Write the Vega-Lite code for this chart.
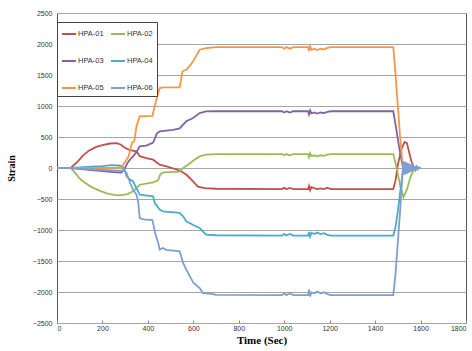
{
  "$schema": "https://vega.github.io/schema/vega-lite/v6.json",
  "width": 409,
  "height": 310,
  "autosize": {"type": "none"},
  "padding": {"left": 57, "top": 13, "right": 6, "bottom": 28},
  "background": "white",
  "config": {
    "view": {"stroke": "#555555", "strokeWidth": 1},
    "font": "Liberation Sans"
  },
  "data": {"values": [
    {"s":"HPA-01","t":0,"v":0},{"s":"HPA-01","t":60,"v":0},{"s":"HPA-01","t":90,"v":100},{"s":"HPA-01","t":114,"v":200},{"s":"HPA-01","t":140,"v":280},{"s":"HPA-01","t":173,"v":340},{"s":"HPA-01","t":200,"v":370},{"s":"HPA-01","t":233,"v":395},{"s":"HPA-01","t":262,"v":400},{"s":"HPA-01","t":280,"v":380},{"s":"HPA-01","t":297,"v":330},{"s":"HPA-01","t":320,"v":290},{"s":"HPA-01","t":350,"v":268},{"s":"HPA-01","t":364,"v":190},{"s":"HPA-01","t":393,"v":161},{"s":"HPA-01","t":423,"v":134},{"s":"HPA-01","t":452,"v":54},{"s":"HPA-01","t":482,"v":27},{"s":"HPA-01","t":540,"v":-40},{"s":"HPA-01","t":570,"v":-110},{"s":"HPA-01","t":600,"v":-220},{"s":"HPA-01","t":620,"v":-300},{"s":"HPA-01","t":650,"v":-325},{"s":"HPA-01","t":700,"v":-335},{"s":"HPA-01","t":990,"v":-340},{"s":"HPA-01","t":1000,"v":-320},{"s":"HPA-01","t":1010,"v":-340},{"s":"HPA-01","t":1025,"v":-320},{"s":"HPA-01","t":1040,"v":-340},{"s":"HPA-01","t":1105,"v":-340},{"s":"HPA-01","t":1109,"v":-290},{"s":"HPA-01","t":1114,"v":-360},{"s":"HPA-01","t":1120,"v":-310},{"s":"HPA-01","t":1132,"v":-325},{"s":"HPA-01","t":1145,"v":-340},{"s":"HPA-01","t":1160,"v":-330},{"s":"HPA-01","t":1175,"v":-340},{"s":"HPA-01","t":1190,"v":-318},{"s":"HPA-01","t":1205,"v":-340},{"s":"HPA-01","t":1480,"v":-340},{"s":"HPA-01","t":1490,"v":-200},{"s":"HPA-01","t":1500,"v":50},{"s":"HPA-01","t":1515,"v":300},{"s":"HPA-01","t":1530,"v":420},{"s":"HPA-01","t":1540,"v":400},{"s":"HPA-01","t":1550,"v":250},{"s":"HPA-01","t":1560,"v":100},{"s":"HPA-01","t":1570,"v":20},{"s":"HPA-01","t":1600,"v":0},

    {"s":"HPA-02","t":0,"v":0},{"s":"HPA-02","t":60,"v":0},{"s":"HPA-02","t":80,"v":-80},{"s":"HPA-02","t":100,"v":-170},{"s":"HPA-02","t":120,"v":-230},{"s":"HPA-02","t":140,"v":-280},{"s":"HPA-02","t":160,"v":-320},{"s":"HPA-02","t":190,"v":-370},{"s":"HPA-02","t":220,"v":-410},{"s":"HPA-02","t":250,"v":-435},{"s":"HPA-02","t":276,"v":-442},{"s":"HPA-02","t":310,"v":-420},{"s":"HPA-02","t":335,"v":-377},{"s":"HPA-02","t":364,"v":-270},{"s":"HPA-02","t":423,"v":-230},{"s":"HPA-02","t":445,"v":-200},{"s":"HPA-02","t":455,"v":-100},{"s":"HPA-02","t":470,"v":-70},{"s":"HPA-02","t":540,"v":-60},{"s":"HPA-02","t":555,"v":0},{"s":"HPA-02","t":580,"v":60},{"s":"HPA-02","t":600,"v":120},{"s":"HPA-02","t":628,"v":187},{"s":"HPA-02","t":656,"v":215},{"s":"HPA-02","t":700,"v":225},{"s":"HPA-02","t":990,"v":225},{"s":"HPA-02","t":1000,"v":205},{"s":"HPA-02","t":1010,"v":225},{"s":"HPA-02","t":1025,"v":205},{"s":"HPA-02","t":1040,"v":225},{"s":"HPA-02","t":1105,"v":225},{"s":"HPA-02","t":1109,"v":175},{"s":"HPA-02","t":1114,"v":240},{"s":"HPA-02","t":1120,"v":190},{"s":"HPA-02","t":1132,"v":205},{"s":"HPA-02","t":1145,"v":188},{"s":"HPA-02","t":1160,"v":205},{"s":"HPA-02","t":1175,"v":195},{"s":"HPA-02","t":1190,"v":215},{"s":"HPA-02","t":1205,"v":225},{"s":"HPA-02","t":1480,"v":225},{"s":"HPA-02","t":1495,"v":0},{"s":"HPA-02","t":1510,"v":-280},{"s":"HPA-02","t":1525,"v":-470},{"s":"HPA-02","t":1540,"v":-350},{"s":"HPA-02","t":1555,"v":-150},{"s":"HPA-02","t":1570,"v":-30},{"s":"HPA-02","t":1600,"v":0},

    {"s":"HPA-03","t":0,"v":0},{"s":"HPA-03","t":60,"v":0},{"s":"HPA-03","t":100,"v":-15},{"s":"HPA-03","t":150,"v":-35},{"s":"HPA-03","t":200,"v":-50},{"s":"HPA-03","t":250,"v":-65},{"s":"HPA-03","t":283,"v":-75},{"s":"HPA-03","t":295,"v":-30},{"s":"HPA-03","t":310,"v":80},{"s":"HPA-03","t":325,"v":150},{"s":"HPA-03","t":335,"v":187},{"s":"HPA-03","t":350,"v":260},{"s":"HPA-03","t":364,"v":349},{"s":"HPA-03","t":393,"v":360},{"s":"HPA-03","t":423,"v":410},{"s":"HPA-03","t":440,"v":560},{"s":"HPA-03","t":452,"v":590},{"s":"HPA-03","t":511,"v":615},{"s":"HPA-03","t":540,"v":640},{"s":"HPA-03","t":555,"v":700},{"s":"HPA-03","t":569,"v":753},{"s":"HPA-03","t":599,"v":807},{"s":"HPA-03","t":628,"v":887},{"s":"HPA-03","t":656,"v":913},{"s":"HPA-03","t":700,"v":915},{"s":"HPA-03","t":990,"v":915},{"s":"HPA-03","t":1000,"v":895},{"s":"HPA-03","t":1010,"v":915},{"s":"HPA-03","t":1025,"v":895},{"s":"HPA-03","t":1040,"v":915},{"s":"HPA-03","t":1105,"v":915},{"s":"HPA-03","t":1109,"v":865},{"s":"HPA-03","t":1114,"v":930},{"s":"HPA-03","t":1120,"v":880},{"s":"HPA-03","t":1132,"v":895},{"s":"HPA-03","t":1145,"v":878},{"s":"HPA-03","t":1160,"v":895},{"s":"HPA-03","t":1175,"v":885},{"s":"HPA-03","t":1190,"v":905},{"s":"HPA-03","t":1205,"v":915},{"s":"HPA-03","t":1480,"v":915},{"s":"HPA-03","t":1490,"v":700},{"s":"HPA-03","t":1505,"v":350},{"s":"HPA-03","t":1520,"v":50},{"s":"HPA-03","t":1530,"v":-30},{"s":"HPA-03","t":1545,"v":-40},{"s":"HPA-03","t":1560,"v":-20},{"s":"HPA-03","t":1580,"v":0},{"s":"HPA-03","t":1600,"v":0},

    {"s":"HPA-04","t":0,"v":0},{"s":"HPA-04","t":60,"v":0},{"s":"HPA-04","t":100,"v":10},{"s":"HPA-04","t":150,"v":20},{"s":"HPA-04","t":200,"v":30},{"s":"HPA-04","t":240,"v":45},{"s":"HPA-04","t":270,"v":40},{"s":"HPA-04","t":285,"v":30},{"s":"HPA-04","t":295,"v":0},{"s":"HPA-04","t":306,"v":-134},{"s":"HPA-04","t":320,"v":-180},{"s":"HPA-04","t":335,"v":-216},{"s":"HPA-04","t":350,"v":-330},{"s":"HPA-04","t":364,"v":-430},{"s":"HPA-04","t":423,"v":-457},{"s":"HPA-04","t":430,"v":-565},{"s":"HPA-04","t":452,"v":-672},{"s":"HPA-04","t":466,"v":-700},{"s":"HPA-04","t":540,"v":-725},{"s":"HPA-04","t":555,"v":-780},{"s":"HPA-04","t":569,"v":-860},{"s":"HPA-04","t":600,"v":-920},{"s":"HPA-04","t":628,"v":-968},{"s":"HPA-04","t":656,"v":-1076},{"s":"HPA-04","t":700,"v":-1085},{"s":"HPA-04","t":990,"v":-1090},{"s":"HPA-04","t":1000,"v":-1065},{"s":"HPA-04","t":1010,"v":-1090},{"s":"HPA-04","t":1025,"v":-1065},{"s":"HPA-04","t":1040,"v":-1090},{"s":"HPA-04","t":1105,"v":-1090},{"s":"HPA-04","t":1109,"v":-1030},{"s":"HPA-04","t":1114,"v":-1110},{"s":"HPA-04","t":1120,"v":-1045},{"s":"HPA-04","t":1132,"v":-1065},{"s":"HPA-04","t":1145,"v":-1042},{"s":"HPA-04","t":1160,"v":-1065},{"s":"HPA-04","t":1175,"v":-1052},{"s":"HPA-04","t":1190,"v":-1078},{"s":"HPA-04","t":1205,"v":-1090},{"s":"HPA-04","t":1480,"v":-1090},{"s":"HPA-04","t":1490,"v":-950},{"s":"HPA-04","t":1500,"v":-700},{"s":"HPA-04","t":1510,"v":-400},{"s":"HPA-04","t":1520,"v":-100},{"s":"HPA-04","t":1530,"v":0},{"s":"HPA-04","t":1600,"v":0},

    {"s":"HPA-05","t":0,"v":0},{"s":"HPA-05","t":280,"v":0},{"s":"HPA-05","t":293,"v":60},{"s":"HPA-05","t":315,"v":187},{"s":"HPA-05","t":330,"v":403},{"s":"HPA-05","t":340,"v":435},{"s":"HPA-05","t":350,"v":680},{"s":"HPA-05","t":364,"v":833},{"s":"HPA-05","t":420,"v":840},{"s":"HPA-05","t":430,"v":1000},{"s":"HPA-05","t":445,"v":1200},{"s":"HPA-05","t":452,"v":1290},{"s":"HPA-05","t":470,"v":1300},{"s":"HPA-05","t":540,"v":1300},{"s":"HPA-05","t":552,"v":1560},{"s":"HPA-05","t":569,"v":1585},{"s":"HPA-05","t":585,"v":1650},{"s":"HPA-05","t":599,"v":1720},{"s":"HPA-05","t":628,"v":1908},{"s":"HPA-05","t":656,"v":1935},{"s":"HPA-05","t":700,"v":1950},{"s":"HPA-05","t":990,"v":1950},{"s":"HPA-05","t":1000,"v":1925},{"s":"HPA-05","t":1010,"v":1950},{"s":"HPA-05","t":1025,"v":1925},{"s":"HPA-05","t":1040,"v":1950},{"s":"HPA-05","t":1105,"v":1950},{"s":"HPA-05","t":1109,"v":1885},{"s":"HPA-05","t":1114,"v":1965},{"s":"HPA-05","t":1120,"v":1905},{"s":"HPA-05","t":1132,"v":1925},{"s":"HPA-05","t":1145,"v":1902},{"s":"HPA-05","t":1160,"v":1925},{"s":"HPA-05","t":1175,"v":1912},{"s":"HPA-05","t":1190,"v":1938},{"s":"HPA-05","t":1205,"v":1950},{"s":"HPA-05","t":1480,"v":1950},{"s":"HPA-05","t":1490,"v":1500},{"s":"HPA-05","t":1500,"v":1000},{"s":"HPA-05","t":1510,"v":500},{"s":"HPA-05","t":1520,"v":100},{"s":"HPA-05","t":1525,"v":0},{"s":"HPA-05","t":1600,"v":0},

    {"s":"HPA-06","t":0,"v":0},{"s":"HPA-06","t":60,"v":0},{"s":"HPA-06","t":100,"v":-10},{"s":"HPA-06","t":150,"v":-20},{"s":"HPA-06","t":200,"v":-30},{"s":"HPA-06","t":250,"v":-40},{"s":"HPA-06","t":280,"v":-45},{"s":"HPA-06","t":295,"v":-30},{"s":"HPA-06","t":306,"v":-80},{"s":"HPA-06","t":322,"v":-242},{"s":"HPA-06","t":335,"v":-350},{"s":"HPA-06","t":350,"v":-430},{"s":"HPA-06","t":358,"v":-565},{"s":"HPA-06","t":364,"v":-807},{"s":"HPA-06","t":380,"v":-830},{"s":"HPA-06","t":420,"v":-840},{"s":"HPA-06","t":432,"v":-1048},{"s":"HPA-06","t":445,"v":-1200},{"s":"HPA-06","t":452,"v":-1318},{"s":"HPA-06","t":466,"v":-1290},{"s":"HPA-06","t":480,"v":-1320},{"s":"HPA-06","t":540,"v":-1345},{"s":"HPA-06","t":555,"v":-1532},{"s":"HPA-06","t":569,"v":-1640},{"s":"HPA-06","t":585,"v":-1747},{"s":"HPA-06","t":600,"v":-1850},{"s":"HPA-06","t":628,"v":-1936},{"s":"HPA-06","t":642,"v":-2017},{"s":"HPA-06","t":680,"v":-2030},{"s":"HPA-06","t":700,"v":-2045},{"s":"HPA-06","t":990,"v":-2050},{"s":"HPA-06","t":1000,"v":-2020},{"s":"HPA-06","t":1010,"v":-2050},{"s":"HPA-06","t":1025,"v":-2020},{"s":"HPA-06","t":1040,"v":-2050},{"s":"HPA-06","t":1105,"v":-2050},{"s":"HPA-06","t":1109,"v":-1960},{"s":"HPA-06","t":1114,"v":-2070},{"s":"HPA-06","t":1120,"v":-2005},{"s":"HPA-06","t":1132,"v":-2020},{"s":"HPA-06","t":1145,"v":-1992},{"s":"HPA-06","t":1160,"v":-2020},{"s":"HPA-06","t":1175,"v":-2005},{"s":"HPA-06","t":1190,"v":-2035},{"s":"HPA-06","t":1205,"v":-2050},{"s":"HPA-06","t":1480,"v":-2050},{"s":"HPA-06","t":1490,"v":-1700},{"s":"HPA-06","t":1500,"v":-1200},{"s":"HPA-06","t":1510,"v":-700},{"s":"HPA-06","t":1518,"v":-250},{"s":"HPA-06","t":1522,"v":0},{"s":"HPA-06","t":1525,"v":110},{"s":"HPA-06","t":1528,"v":-110},{"s":"HPA-06","t":1531,"v":100},{"s":"HPA-06","t":1534,"v":-100},{"s":"HPA-06","t":1537,"v":90},{"s":"HPA-06","t":1540,"v":-90},{"s":"HPA-06","t":1543,"v":80},{"s":"HPA-06","t":1546,"v":-80},{"s":"HPA-06","t":1549,"v":70},{"s":"HPA-06","t":1552,"v":-70},{"s":"HPA-06","t":1555,"v":60},{"s":"HPA-06","t":1558,"v":-60},{"s":"HPA-06","t":1561,"v":50},{"s":"HPA-06","t":1564,"v":-50},{"s":"HPA-06","t":1567,"v":40},{"s":"HPA-06","t":1570,"v":-40},{"s":"HPA-06","t":1574,"v":30},{"s":"HPA-06","t":1578,"v":-30},{"s":"HPA-06","t":1582,"v":20},{"s":"HPA-06","t":1586,"v":-20},{"s":"HPA-06","t":1590,"v":10},{"s":"HPA-06","t":1595,"v":-5},{"s":"HPA-06","t":1600,"v":0}
  ]},
  "mark": {"type": "line", "strokeWidth": 1.8, "interpolate": "linear"},
  "encoding": {
    "x": {
      "field": "t", "type": "quantitative",
      "scale": {"domain": [0, 1800], "nice": false},
      "axis": {
        "title": "Time (Sec)", "values": [0,200,400,600,800,1000,1200,1400,1600,1800],
        "format": "d",
        "grid": false, "domain": false, "ticks": true, "tickSize": -3, "tickColor": "#888",
        "labelFontSize": 7, "labelColor": "#333", "labelPadding": 4,
        "titleFont": "Liberation Serif", "titleFontSize": 11, "titleFontWeight": "bold",
        "titleColor": "#000", "titlePadding": 3
      }
    },
    "y": {
      "field": "v", "type": "quantitative",
      "scale": {"domain": [-2500, 2500], "nice": false},
      "axis": {
        "title": "Strain", "values": [-2500,-2000,-1500,-1000,-500,0,500,1000,1500,2000,2500],
        "format": "d",
        "grid": true, "gridColor": "#a6a6a6", "gridWidth": 1,
        "domain": false, "ticks": false,
        "labelFontSize": 7, "labelColor": "#333", "labelPadding": 5,
        "titleFont": "Liberation Serif", "titleFontSize": 10, "titleFontWeight": "bold",
        "titleColor": "#000", "titlePadding": 16
      }
    },
    "color": {
      "field": "s", "type": "nominal",
      "scale": {
        "domain": ["HPA-01","HPA-02","HPA-03","HPA-04","HPA-05","HPA-06"],
        "range": ["#C0504D","#9BBB59","#8064A2","#4BACC6","#F79646","#7F9FD2"]
      },
      "legend": {
        "title": null, "orient": "none", "legendX": 0, "legendY": 9,
        "columns": 2, "direction": "horizontal",
        "symbolType": "stroke", "symbolSize": 196, "symbolStrokeWidth": 2,
        "labelFontSize": 7.5, "labelColor": "#333", "labelOffset": 1,
        "rowPadding": 15, "columnPadding": 3,
        "padding": 4, "fillColor": "white", "strokeColor": "#444"
      }
    },
    "order": {"field": "t", "type": "quantitative"}
  }
}
